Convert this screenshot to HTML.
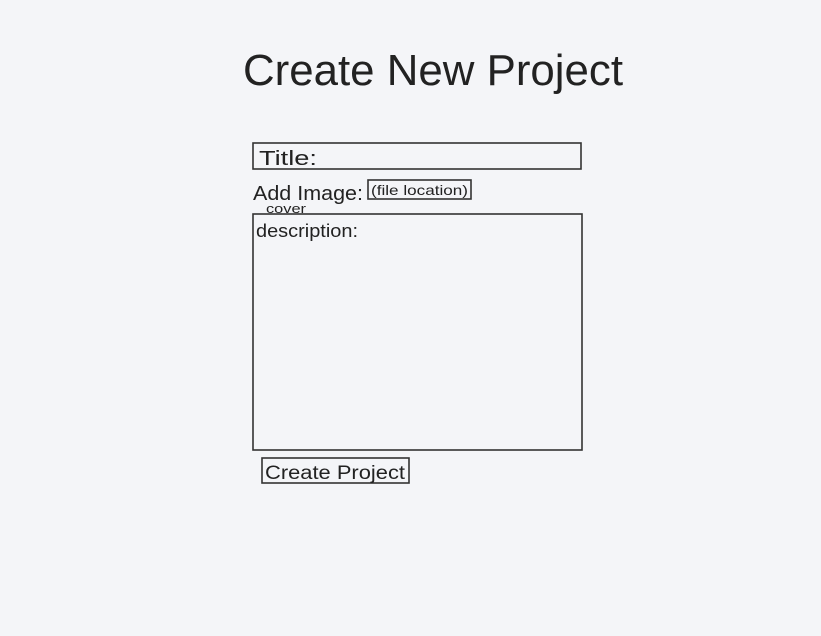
<!DOCTYPE html>
<html><head><meta charset="utf-8"><style>
html,body{margin:0;padding:0;background:#f4f5f8;}
svg{display:block}
text{font-family:"Liberation Sans",sans-serif;fill:#222;}
</style></head><body>
<svg width="821" height="636" viewBox="0 0 821 636" xmlns="http://www.w3.org/2000/svg">
<rect width="821" height="636" fill="#f4f5f8"/>
<text x="243" y="85" font-size="44" textLength="380" lengthAdjust="spacingAndGlyphs">Create New Project</text>
<g fill="none" stroke="#333" stroke-width="1.6">
<rect x="253" y="143" width="328" height="26"/>
<rect x="368" y="180" width="103" height="19"/>
<rect x="253" y="214" width="329" height="236"/>
<rect x="262" y="458" width="147" height="25"/>
</g>
<text x="259" y="165" font-size="20" textLength="58" lengthAdjust="spacingAndGlyphs">Title:</text>
<text x="253" y="200" font-size="20" textLength="110" lengthAdjust="spacingAndGlyphs">Add Image:</text>
<text x="266" y="213" font-size="13" textLength="40" lengthAdjust="spacingAndGlyphs">cover</text>
<text x="371" y="195" font-size="14" textLength="97" lengthAdjust="spacingAndGlyphs">(file location)</text>
<text x="256" y="237" font-size="18" textLength="102" lengthAdjust="spacingAndGlyphs">description:</text>
<text x="265" y="479" font-size="19" textLength="140" lengthAdjust="spacingAndGlyphs">Create Project</text>
</svg>
</body></html>
